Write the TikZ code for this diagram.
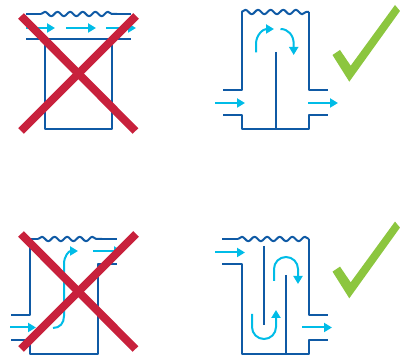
\documentclass[tikz,border=0pt]{standalone}
\usepackage{tikz}
\usetikzlibrary{arrows.meta}
\usetikzlibrary{decorations.pathmorphing}
\definecolor{pipeblue}{HTML}{0F5AA5}
\definecolor{flowcyan}{HTML}{00BCE7}
\definecolor{crossred}{HTML}{C8213C}
\definecolor{tickgreen}{HTML}{8CC63F}

\begin{document}
\begin{tikzpicture}[
    x=1pt, y=-1pt,
    wall/.style={draw=pipeblue, line width=2pt, line join=round},
    wave/.style={wall, decorate, decoration={snake, segment length=12.6pt, amplitude=2.2pt}},
    flow/.style={draw=flowcyan, line width=2pt, -{Triangle[length=8pt,width=9pt]}},
    cross/.style={draw=crossred, line width=8pt},
    tick/.style={fill=tickgreen}
]
\useasboundingbox (0,0) rectangle (400,358);

% Top left: no baffle
\draw[wall] (26,14) -- (41,14);
\draw[wave] (41,14) -- (117,14);
\draw[wall] (117,14) -- (131,14);
\draw[wall] (26,39) -- (131,39);
\draw[wall] (44.5,39) -- (44.5,129.5) -- (112,129.5) -- (112,39);
\draw[flow] (26,28) -- (55,28);
\draw[flow] (66,28) -- (96,28);
\draw[flow] (106,28) -- (136,28);
\draw[cross] (21,16) -- (135.5,131);
\draw[cross] (136,16) -- (21,131);

% Top right: one baffle
\draw[wave] (241.5,12) -- (309,12);
\draw[wall] (223,90) -- (241.5,90) -- (241.5,12);
\draw[wall] (223,115.5) -- (241.5,115.5) -- (241.5,129.5) -- (309,129.5) -- (309,115.5) -- (328,115.5);
\draw[wall] (309,12) -- (309,90) -- (328,90);
\draw[wall] (275.5,52) -- (275.5,129.5);
\draw[flow] (215,103) -- (245,103);
\draw[flow] (308,103) -- (338,103);
\draw[flow] (256,52.5) -- (256,44) .. controls (256,35) and (263,29) .. (274,29);
\draw[flow] (280.5,29) .. controls (288,29) and (293.7,35) .. (293.7,44) -- (293.7,55);
\fill[tick] (332.5,55) -- (340,50) -- (350.7,65.7) -- (395,5) -- (400,11) -- (349.3,81.7) -- cycle;

% Bottom left: no baffle, offset pipes
\draw[wave] (38,239) -- (102,239);
\draw[wall] (102,239) -- (117,239);
\draw[wall] (38,239) -- (30,239) -- (30,315) -- (11,315);
\draw[wall] (11,340) -- (30,340) -- (30,354.5) -- (98,354.5) -- (98,264) -- (117,264);
\draw[flow] (10,327.5) -- (36,327.5);
\draw[flow] (53,328) .. controls (60,328) and (64,323) .. (64,316) -- (64,264) .. controls (64,256) and (69,251) .. (78,251);
\draw[flow] (93,251) -- (122,251);
\draw[cross] (21,234) -- (135.5,349);
\draw[cross] (136,234) -- (21,349);

% Bottom right: two baffles
\draw[wall] (222,239) -- (238,239);
\draw[wave] (238,239) -- (309,239);
\draw[wall] (222,264) -- (241.5,264) -- (241.5,354.5) -- (309,354.5) -- (309,340) -- (328,340);
\draw[wall] (309,239) -- (309,315) -- (328,315);
\draw[wall] (263.5,246) -- (263.5,325);
\draw[wall] (286,275) -- (286,354.5);
\draw[flow] (215,252.5) -- (245,252.5);
\draw[flow] (302,327.5) -- (332,327.5);
\draw[flow] (252,314) -- (252,327) arc[start angle=180, end angle=0, radius=12] -- (276,310);
\draw[flow] (274,281) -- (274,269) arc[start angle=180, end angle=360, radius=12] -- (298,284);
\fill[tick] (332.5,271.6) -- (340,266.6) -- (350.7,282.3) -- (395,221.6) -- (400,227.6) -- (349.3,298.3) -- cycle;
\end{tikzpicture}
\end{document}
